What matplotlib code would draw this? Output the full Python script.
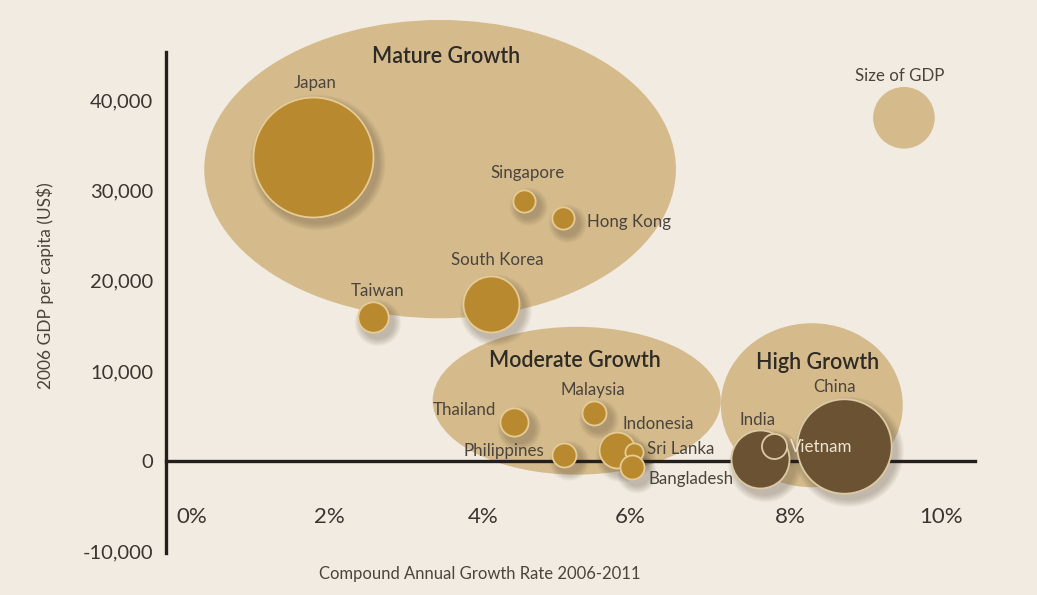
import numpy as np
import matplotlib
matplotlib.use("Agg")
import matplotlib.pyplot as plt
from matplotlib.patches import Ellipse
import matplotlib.transforms as mtransforms

# ---------------- data ----------------
countries = ["Japan", "Singapore", "Hong Kong", "South Korea", "Taiwan",
             "Thailand", "Malaysia", "Philippines", "Indonesia", "Sri Lanka",
             "Bangladesh", "India", "Vietnam", "China"]
growth = [1.88, 4.58, 5.08, 4.16, 2.65,
          4.46, 5.48, 5.10, 5.77, 5.99,
          5.97, 7.61, 7.78, 8.68]            # CAGR 2006-2011, %
gdp_pc = [33800, 28900, 27000, 17400, 16000,
          4300, 5300, 700, 1200, 1000,
          -700, 200, 1700, 1700]             # 2006 GDP per capita, US$
gdp_size = [4360, 150, 150, 950, 280,
            240, 175, 175, 390, 100,
            175, 1020, 190, 2700]            # size of GDP (US$ bn)
group = ["mature", "mature", "mature", "mature", "mature",
         "moderate", "moderate", "moderate", "moderate", "moderate",
         "moderate", "high", "high", "high"]

group_names = ["Mature Growth", "Moderate Growth", "High Growth"]
group_cx = [3.51, 5.26, 8.27]
group_cy = [32400, 6700, 6200]
group_w = [6.04, 3.69, 2.33]
group_h = [33100, 16400, 18200]
group_title_x = [3.59, 5.24, 8.34]
group_title_y = [44900, 11200, 10900]

xticks = [0, 2, 4, 6, 8, 10]
xtick_labels = ["0%", "2%", "4%", "6%", "8%", "10%"]
yticks = [-10000, 0, 10000, 20000, 30000, 40000]
ytick_labels = ["-10,000", "0", "10,000", "20,000", "30,000", "40,000"]

legend_label = "Size of GDP"
legend_x, legend_y, legend_size = 9.45, 38100, 1150

# ---------------- style ----------------
BG = "#f1ebe1"
ELL = "#d5bb8c"
GOLD = "#b8892f"
GOLD_EDGE = "#e6cc94"
DARK = "#6b5233"
DARK_EDGE = "#dccaa4"
TXT = "#3a3530"
LBL = "#4a443d"
FONT = ["Lato", "DejaVu Sans"]

plt.rcParams["font.family"] = FONT

fig = plt.figure(figsize=(10.37, 5.95), dpi=100, facecolor=BG)
ax = fig.add_axes([166 / 1037, 1 - 553 / 595, (975 - 166) / 1037, (553 - 52) / 595])
ax.set_facecolor(BG)
ax.patch.set_visible(False)
ax.set_xlim(0, 10.36)
ax.set_ylim(-10200, 45400)

# group ellipses
for cx, cy, w, h in zip(group_cx, group_cy, group_w, group_h):
    ax.add_patch(Ellipse((cx, cy), w, h, facecolor=ELL, edgecolor="none",
                         zorder=1, clip_on=False))
for name, tx, ty in zip(group_names, group_title_x, group_title_y):
    ax.text(tx, ty, name, ha="center", va="center", fontsize=15.5,
            color="#2e2a26", fontweight="semibold", zorder=6, clip_on=False)

K = 60.0 / np.sqrt(4360.0)  # px radius per sqrt(bn)


def s_from_px(r):
    d_pt = 2 * r * 72 / 100
    return d_pt ** 2


radii = [K * np.sqrt(v) for v in gdp_size]

# shadows
off = mtransforms.offset_copy(ax.transData, fig=fig, x=5 / 100 * 72, y=-6 / 100 * 72, units="points")
for x, y, r in zip(growth, gdp_pc, radii):
    for k in range(8):
        rr = r + 8 - k
        ax.scatter([x], [y], s=s_from_px(rr), color="#5a4a38", alpha=0.045,
                   edgecolors="none", transform=off, zorder=2, clip_on=False)

# bubbles
for x, y, r, g in zip(growth, gdp_pc, radii, group):
    fc = DARK if g == "high" else GOLD
    ec = DARK_EDGE if g == "high" else GOLD_EDGE
    ax.scatter([x], [y], s=s_from_px(r), color=fc, edgecolors=ec,
               linewidths=1.3, zorder=3, clip_on=False)

# country labels: offsets in px from bubble centre
label_off = {
    "Japan": (2, 74, "center"),
    "Singapore": (4, 28, "center"),
    "Hong Kong": (24, -4, "left"),
    "South Korea": (6, 44, "center"),
    "Taiwan": (5, 26, "center"),
    "Thailand": (-18, 12, "right"),
    "Malaysia": (-1, 23, "center"),
    "Philippines": (-20, 4, "right"),
    "Indonesia": (6, 26, "left"),
    "Sri Lanka": (13, 3, "left"),
    "Bangladesh": (16, -12, "left"),
    "India": (-3, 39, "center"),
    "Vietnam": (16, -1, "left"),
    "China": (-9, 59, "center"),
}
for c, x, y in zip(countries, growth, gdp_pc):
    dx, dy, ha = label_off[c]
    col = "#efe4cf" if c == "Vietnam" else LBL
    ax.annotate(c, (x, y), xytext=(dx * 0.72, dy * 0.72), textcoords="offset points",
                ha=ha, va="center", fontsize=12.2, color=col, zorder=7)

# legend bubble
ax.scatter([legend_x], [legend_y], s=s_from_px(K * np.sqrt(legend_size)),
           color=ELL, edgecolors="none", zorder=3)
ax.annotate(legend_label, (legend_x, legend_y), xytext=(-3, 42 * 0.72),
            textcoords="offset points", ha="center", va="center",
            fontsize=12.2, color=LBL)

# axes
for sp in ["top", "right"]:
    ax.spines[sp].set_visible(False)
ax.spines["bottom"].set_position(("data", 0))
ax.spines["left"].set_position(("data", 0))
for sp in ["bottom", "left"]:
    ax.spines[sp].set_color("#231f1c")
    ax.spines[sp].set_linewidth(2.4)
    ax.spines[sp].set_zorder(2.5)

ax.set_xticks(xticks)
ax.set_xticklabels(xtick_labels)
ax.set_xticks([2, 4, 6, 8], minor=True)
ax.tick_params(axis="x", which="major", length=0, pad=33, labelsize=16, labelcolor=TXT)
ax.tick_params(axis="x", which="minor", length=5, width=2, color="#231f1c", direction="out")
ax.set_yticks(yticks)
ax.set_yticklabels(ytick_labels)
ax.tick_params(axis="y", length=0, pad=9, labelsize=14.5, labelcolor=TXT)
xshift_px = [26, 7, 5, -4, 0, -6]
for lab, sh in zip(ax.get_xticklabels(), xshift_px):
    lab.set_transform(lab.get_transform() + mtransforms.ScaledTranslation(sh / 100, 0, fig.dpi_scale_trans))

fig.text(45 / 1037, 1 - 286 / 595, "2006 GDP per capita (US$)", rotation=90,
         ha="center", va="center", fontsize=12.5, color=LBL)
fig.text(480 / 1037, 1 - 574 / 595, "Compound Annual Growth Rate 2006-2011",
         ha="center", va="center", fontsize=12, color=LBL)

fig.savefig("out.png", dpi=100, facecolor=BG)
